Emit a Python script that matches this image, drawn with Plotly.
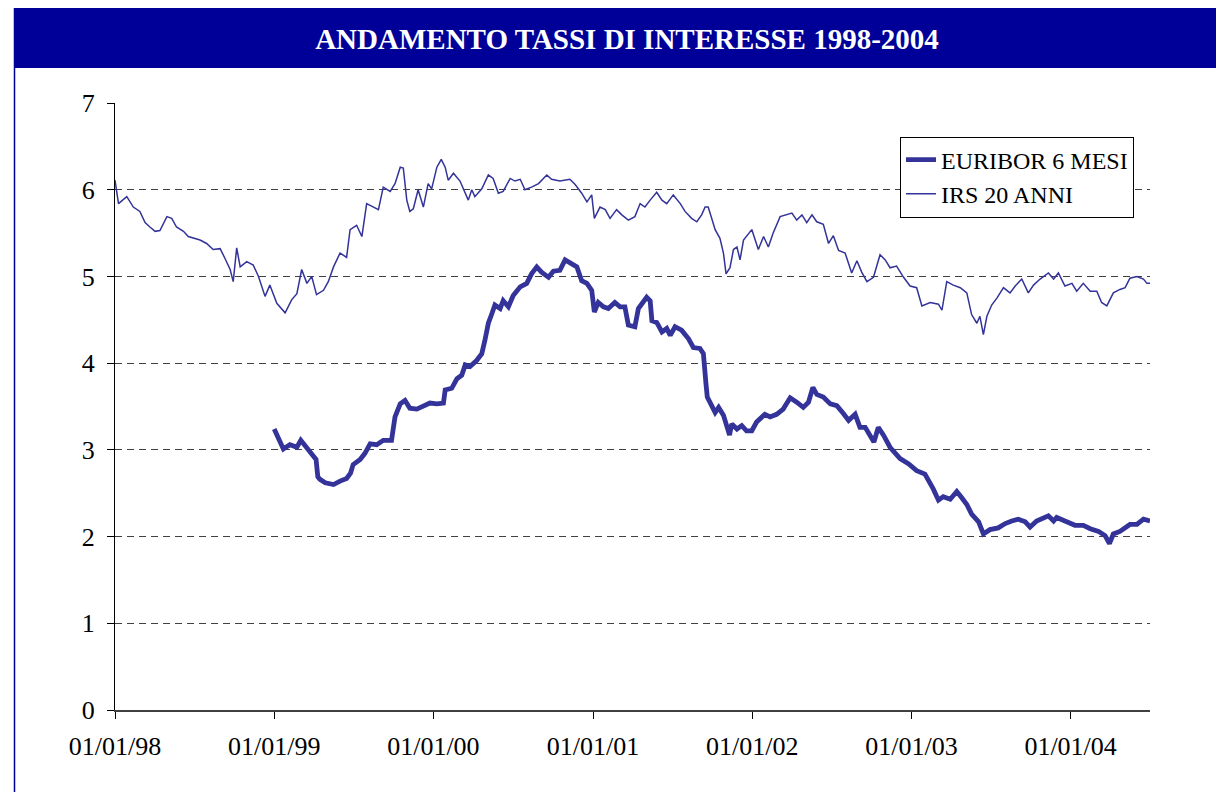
import pandas as pd
import plotly.graph_objects as go

# ---- data (days since 1998-01-01, rate in %) ----
START = "1998-01-01"

irs_days = [0, 8, 27, 42, 57, 69, 80, 92, 103, 119, 130, 141, 157, 168, 195, 210, 225, 241, 252, 264,
            271, 279, 287, 302, 317, 329, 344, 355, 371, 390, 405, 417, 428, 440, 451, 462, 478, 489, 501, 516,
            531, 539, 554, 566, 577, 592, 604, 615, 631, 642, 654, 661, 669, 676, 684, 695, 707, 718, 726, 738,
            748, 757, 764, 776, 791, 810, 818, 825, 841, 856, 867, 879, 890, 906, 917, 929, 940, 955, 971, 990,
            1001, 1020, 1043, 1055, 1070, 1082, 1093, 1099, 1112, 1124, 1135, 1150, 1162, 1177, 1192, 1204, 1215, 1227, 1242, 1254,
            1265, 1280, 1296, 1307, 1322, 1334, 1345, 1353, 1360, 1368, 1376, 1387, 1395, 1401, 1410, 1418, 1426, 1433, 1441, 1460,
            1475, 1487, 1498, 1509, 1525, 1552, 1563, 1575, 1586, 1598, 1609, 1624, 1636, 1647, 1659, 1674, 1689, 1701, 1712, 1724,
            1739, 1754, 1766, 1777, 1792, 1808, 1823, 1838, 1850, 1869, 1888, 1896, 1907, 1922, 1938, 1953, 1964, 1976, 1983, 1991,
            1999, 2010, 2022, 2037, 2052, 2064, 2079, 2094, 2106, 2121, 2140, 2152, 2163, 2178, 2194, 2205, 2220, 2236, 2251, 2262,
            2274, 2289, 2304, 2316, 2327, 2343, 2358, 2366, 2373]
irs_values = [6.11, 5.84, 5.92, 5.80, 5.75, 5.62, 5.57, 5.52, 5.53, 5.69, 5.67, 5.57, 5.52, 5.46, 5.42, 5.38, 5.31, 5.32, 5.21, 5.08,
              4.94, 5.33, 5.11, 5.17, 5.13, 5.00, 4.77, 4.90, 4.69, 4.58, 4.73, 4.80, 5.08, 4.92, 5.00, 4.79, 4.84, 4.94, 5.11, 5.27,
              5.22, 5.54, 5.59, 5.46, 5.84, 5.80, 5.77, 6.03, 5.98, 6.07, 6.26, 6.25, 5.88, 5.75, 5.78, 6.00, 5.80, 6.07, 6.01, 6.26,
              6.35, 6.26, 6.11, 6.19, 6.10, 5.88, 6.00, 5.92, 6.01, 6.17, 6.13, 5.96, 5.98, 6.13, 6.10, 6.12, 6.00, 6.03, 6.07, 6.17,
              6.12, 6.10, 6.12, 6.06, 5.96, 5.86, 5.94, 5.67, 5.80, 5.77, 5.67, 5.77, 5.71, 5.65, 5.69, 5.84, 5.80, 5.88, 5.97, 5.88,
              5.84, 5.94, 5.84, 5.75, 5.67, 5.63, 5.71, 5.80, 5.80, 5.67, 5.54, 5.44, 5.27, 5.03, 5.10, 5.31, 5.34, 5.19, 5.42, 5.54,
              5.31, 5.46, 5.34, 5.50, 5.69, 5.73, 5.65, 5.71, 5.62, 5.71, 5.63, 5.60, 5.38, 5.47, 5.30, 5.27, 5.04, 5.18, 5.05, 4.94,
              4.99, 5.25, 5.19, 5.10, 5.12, 4.99, 4.89, 4.87, 4.66, 4.70, 4.68, 4.61, 4.94, 4.90, 4.87, 4.81, 4.56, 4.46, 4.54, 4.33,
              4.54, 4.67, 4.75, 4.87, 4.81, 4.89, 4.97, 4.81, 4.90, 4.97, 5.04, 4.97, 5.04, 4.89, 4.92, 4.83, 4.92, 4.83, 4.83, 4.70,
              4.66, 4.81, 4.85, 4.87, 4.98, 5.00, 4.97, 4.92, 4.92]

euribor_days = [365, 371, 378, 386, 401, 417, 426, 440, 451, 461, 465, 470, 482, 501, 516, 531, 540, 546, 562, 573,
                585, 600, 615, 634, 642, 654, 665, 676, 692, 707, 722, 738, 753, 757, 772, 784, 795, 803, 814, 829,
                841, 848, 856, 864, 871, 883, 890, 902, 913, 929, 944, 955, 967, 978, 994, 1005, 1020, 1032, 1043, 1059,
                1070, 1082, 1093, 1099, 1108, 1120, 1131, 1146, 1158, 1169, 1177, 1192, 1200, 1211, 1219, 1227, 1231, 1242, 1254, 1265,
                1273, 1284, 1299, 1315, 1326, 1341, 1349, 1355, 1358, 1368, 1376, 1384, 1395, 1409, 1414, 1426, 1437, 1448, 1460, 1471,
                1490, 1502, 1517, 1532, 1548, 1563, 1578, 1590, 1600, 1609, 1624, 1640, 1655, 1670, 1682, 1697, 1708, 1720, 1731, 1740,
                1750, 1762, 1777, 1788, 1800, 1819, 1838, 1857, 1865, 1876, 1888, 1899, 1915, 1930, 1941, 1953, 1964, 1980, 1991, 2006,
                2025, 2041, 2056, 2071, 2087, 2098, 2113, 2140, 2152, 2159, 2178, 2201, 2220, 2236, 2255, 2270, 2280, 2289, 2304, 2327,
                2343, 2358, 2373]
euribor_values = [3.24, 3.17, 3.08, 3.01, 3.06, 3.03, 3.11, 3.02, 2.95, 2.89, 2.69, 2.66, 2.62, 2.60, 2.64, 2.67, 2.73, 2.83, 2.89, 2.96,
                  3.07, 3.06, 3.11, 3.11, 3.38, 3.53, 3.57, 3.48, 3.47, 3.50, 3.54, 3.53, 3.54, 3.69, 3.71, 3.82, 3.86, 3.98, 3.96, 4.03,
                  4.11, 4.26, 4.46, 4.57, 4.67, 4.63, 4.72, 4.65, 4.78, 4.88, 4.92, 5.03, 5.11, 5.05, 4.99, 5.06, 5.07, 5.19, 5.16, 5.11,
                  4.95, 4.92, 4.84, 4.59, 4.70, 4.65, 4.63, 4.70, 4.65, 4.65, 4.44, 4.42, 4.63, 4.72, 4.76, 4.72, 4.49, 4.47, 4.36, 4.40,
                  4.32, 4.42, 4.38, 4.28, 4.18, 4.17, 4.11, 3.76, 3.61, 3.51, 3.43, 3.49, 3.40, 3.17, 3.30, 3.24, 3.28, 3.22, 3.22, 3.32,
                  3.41, 3.38, 3.41, 3.47, 3.60, 3.55, 3.49, 3.55, 3.72, 3.64, 3.61, 3.53, 3.51, 3.42, 3.34, 3.41, 3.26, 3.26, 3.17, 3.09,
                  3.26, 3.17, 3.03, 2.97, 2.90, 2.84, 2.76, 2.72, 2.65, 2.55, 2.42, 2.46, 2.43, 2.52, 2.45, 2.37, 2.26, 2.17, 2.03, 2.08,
                  2.10, 2.15, 2.18, 2.20, 2.17, 2.11, 2.18, 2.24, 2.18, 2.22, 2.18, 2.13, 2.13, 2.09, 2.06, 2.01, 1.92, 2.03, 2.06, 2.14,
                  2.14, 2.20, 2.18]

series_names = ["EURIBOR 6 MESI", "IRS 20 ANNI"]
title_text = "ANDAMENTO TASSI DI INTERESSE 1998-2004"
x_range = ["1998-01-01", "2004-07-01"]
y_range = [0, 7]

base = pd.Timestamp(START)
irs_dates = base + pd.to_timedelta(irs_days, unit="D")
eur_dates = base + pd.to_timedelta(euribor_days, unit="D")

LINE = "#333399"
FONT = "Liberation Serif, Times New Roman, serif"

fig = go.Figure()
fig.add_trace(go.Scatter(x=eur_dates, y=euribor_values, mode="lines", name=series_names[0],
                         line=dict(color=LINE, width=4.8)))
fig.add_trace(go.Scatter(x=irs_dates, y=irs_values, mode="lines", name=series_names[1],
                         line=dict(color=LINE, width=1.5)))

# page geometry: the page body adds an 8px offset, so figure coords = page coords - 8
OFF = 8
W, H = 1224, 792
L, R, T, B = 115 - OFF, 1150 - OFF, 103 - OFF, 710 - OFF
pw, ph = R - L, B - T


def px(x):
    return (x - OFF - L) / pw


def py(y):
    return (B - (y - OFF)) / ph


fig.update_layout(
    width=W, height=H,
    margin=dict(l=L, r=W - R, t=T, b=H - B, pad=0),
    paper_bgcolor="white", plot_bgcolor="white",
    font=dict(family=FONT, color="black", size=24),
    title=dict(text="<b>" + title_text + "</b>", x=(627 - OFF) / W, xanchor="center",
               y=1 - (38.5 - OFF) / H, yanchor="middle", yref="container",
               font=dict(family=FONT, size=29, color="white")),
    showlegend=True,
    legend=dict(x=px(900), y=py(136.5), xanchor="left", yanchor="top",
                bgcolor="white", bordercolor="black", borderwidth=1,
                font=dict(family=FONT, size=24, color="black"),
                tracegroupgap=0, itemwidth=30),
    shapes=[
        dict(type="rect", xref="paper", yref="paper", x0=px(14), x1=px(1240), y0=py(68), y1=py(0),
             fillcolor="#000099", line=dict(width=0), layer="below"),
        dict(type="line", xref="paper", yref="paper", x0=px(14.5), x1=px(14.5), y0=py(7), y1=py(810),
             line=dict(color="#000099", width=1.5)),
    ],
)

fig.update_xaxes(
    type="date", range=x_range, tick0="1998-01-01", dtick="M12", tickformat="%d/%m/%y",
    showgrid=False, zeroline=False, showline=True, linecolor="#404040", linewidth=2,
    ticks="outside", ticklen=7, tickcolor="black", tickwidth=1,
    tickfont=dict(family=FONT, size=26, color="black"), ticklabelstandoff=5,
)
fig.update_yaxes(
    range=y_range, dtick=1, tick0=0, showgrid=True, gridcolor="#404040", gridwidth=1,
    griddash="7px,5px", zeroline=False, showline=True, linecolor="black", linewidth=1,
    ticks="outside", ticklen=7, tickcolor="black", tickwidth=1,
    tickfont=dict(family=FONT, size=26, color="black"), ticklabelstandoff=7,
)

fig.write_html("out.html")
